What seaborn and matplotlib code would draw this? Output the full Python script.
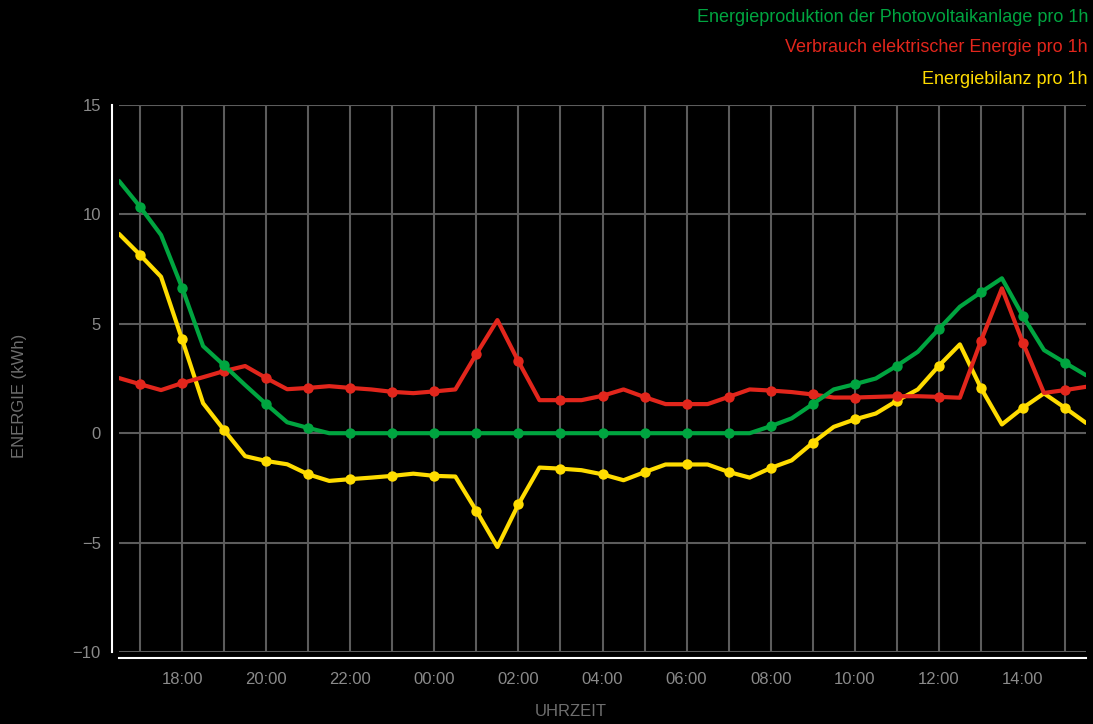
import numpy as np
import pandas as pd
import seaborn as sns
import matplotlib
matplotlib.use("Agg")
import matplotlib.pyplot as plt
from matplotlib.ticker import MultipleLocator, FuncFormatter

# Uhrzeiten (halbstuendlich, 16:30 bis 15:30 am Folgetag)
zeiten = ["16:30", "17:00", "17:30", "18:00", "18:30", "19:00", "19:30", "20:00",
          "20:30", "21:00", "21:30", "22:00", "22:30", "23:00", "23:30", "00:00",
          "00:30", "01:00", "01:30", "02:00", "02:30", "03:00", "03:30", "04:00",
          "04:30", "05:00", "05:30", "06:00", "06:30", "07:00", "07:30", "08:00",
          "08:30", "09:00", "09:30", "10:00", "10:30", "11:00", "11:30", "12:00",
          "12:30", "13:00", "13:30", "14:00", "14:30", "15:00", "15:30"]

produktion = [11.53, 10.35, 9.06, 6.65, 3.98, 3.1, 2.2, 1.33, 0.5, 0.24,
              0, 0, 0, 0, 0, 0, 0, 0, 0, 0, 0, 0, 0, 0, 0, 0, 0, 0, 0, 0, 0,
              0.32, 0.68, 1.33, 2.0, 2.24, 2.5, 3.08, 3.72, 4.76, 5.78, 6.44,
              7.08, 5.35, 3.8, 3.22, 2.65]

verbrauch = [2.52, 2.24, 1.97, 2.29, 2.56, 2.84, 3.07, 2.52, 2.01, 2.07, 2.15,
             2.07, 2.0, 1.89, 1.83, 1.91, 2.0, 3.62, 5.17, 3.28, 1.51, 1.51,
             1.51, 1.71, 2.0, 1.65, 1.33, 1.33, 1.33, 1.66, 2.0, 1.95, 1.88,
             1.77, 1.63, 1.63, 1.66, 1.69, 1.69, 1.66, 1.62, 4.21, 6.62, 4.13,
             1.84, 1.97, 2.12]

bilanz = [9.11, 8.15, 7.15, 4.29, 1.37, 0.14, -1.05, -1.27, -1.42, -1.88,
          -2.18, -2.1, -2.03, -1.95, -1.85, -1.95, -1.98, -3.55, -5.2, -3.25,
          -1.57, -1.62, -1.69, -1.88, -2.15, -1.78, -1.43, -1.43, -1.43, -1.77,
          -2.03, -1.59, -1.24, -0.44, 0.29, 0.63, 0.9, 1.48, 2.0, 3.08, 4.06,
          2.07, 0.4, 1.16, 1.82, 1.16, 0.47]

serien = ["Energieproduktion der Photovoltaikanlage pro 1h",
          "Verbrauch elektrischer Energie pro 1h",
          "Energiebilanz pro 1h"]
farben = ["#00a540", "#e2261c", "#ffdc00"]


def stunden(t, start=16.5):
    h, m = t.split(":")
    x = int(h) + int(m) / 60
    if x < start:
        x += 24
    return x


x = [stunden(t) for t in zeiten]
df = pd.DataFrame({"x": x * 3,
                   "wert": produktion + verbrauch + bilanz,
                   "serie": [serien[0]] * len(x) + [serien[1]] * len(x) + [serien[2]] * len(x)})

sns.set_theme(style="dark")
plt.rcParams['font.family'] = ['Liberation Sans', 'DejaVu Sans']

fig = plt.figure(figsize=(10.93, 7.24), dpi=100, facecolor="black")
ax = fig.add_axes([119 / 1093, 1 - 652 / 724, (1086 - 119) / 1093, (652 - 105) / 724])
ax.set_facecolor("black")

grau = "#8a8a8a"
ax.xaxis.set_major_locator(MultipleLocator(2))
ax.xaxis.set_minor_locator(MultipleLocator(1))
ax.yaxis.set_major_locator(MultipleLocator(5))
ax.grid(True, which="both", axis="x", color="#5c5c5c", linewidth=1.5)
ax.grid(True, which="major", axis="y", color="#5c5c5c", linewidth=1.5)
ax.set_axisbelow(True)

for i, s in enumerate(serien[::-1]):
    sub = df[df.serie == s]
    sns.lineplot(data=sub, x="x", y="wert", ax=ax, color=farben[::-1][i],
                 linewidth=3, marker="o", markersize=7.5, markeredgewidth=0,
                 markevery=slice(1, None, 2), legend=False, zorder=3)

ax.set_xlim(16.5, 39.5)
ax.set_ylim(-10, 15)
ax.xaxis.set_major_formatter(FuncFormatter(lambda v, p: "%02d:00" % (int(round(v)) % 24)))
ax.set_xticks(np.arange(18, 40, 2))

for g in ax.get_ygridlines():
    if abs(g.get_ydata()[0] + 10) < 0.01:
        g.set_visible(False)

for side in ["top", "right"]:
    ax.spines[side].set_visible(False)
ax.spines["left"].set_position(("outward", 5))
ax.spines["bottom"].set_position(("outward", 4.5))
for side in ["left", "bottom"]:
    ax.spines[side].set_color("white")
    ax.spines[side].set_linewidth(1.5)

ax.tick_params(axis="both", which="major", colors="white", length=4, width=2.5,
               labelcolor=grau, labelsize=12, pad=6)
ax.tick_params(axis="x", which="minor", length=0)
ax.tick_params(axis="y", pad=4)
ax.set_xlabel("")
ax.set_ylabel("")

fig.text(20 / 1093, 1 - 396 / 724, "ENERGIE (kWh)", rotation=90, color="#6e6e6e",
         fontsize=12, ha="center", va="center")
fig.text(571 / 1093, 1 - 712 / 724, "UHRZEIT", color="#6e6e6e",
         fontsize=12, ha="center", va="center")

for i, s in enumerate(serien):
    fig.text(1088 / 1093, 1 - (17 + 31 * i) / 724, s, color=farben[i],
             fontsize=13, ha="right", va="center")

fig.savefig("out.png", dpi=100, facecolor="black")
